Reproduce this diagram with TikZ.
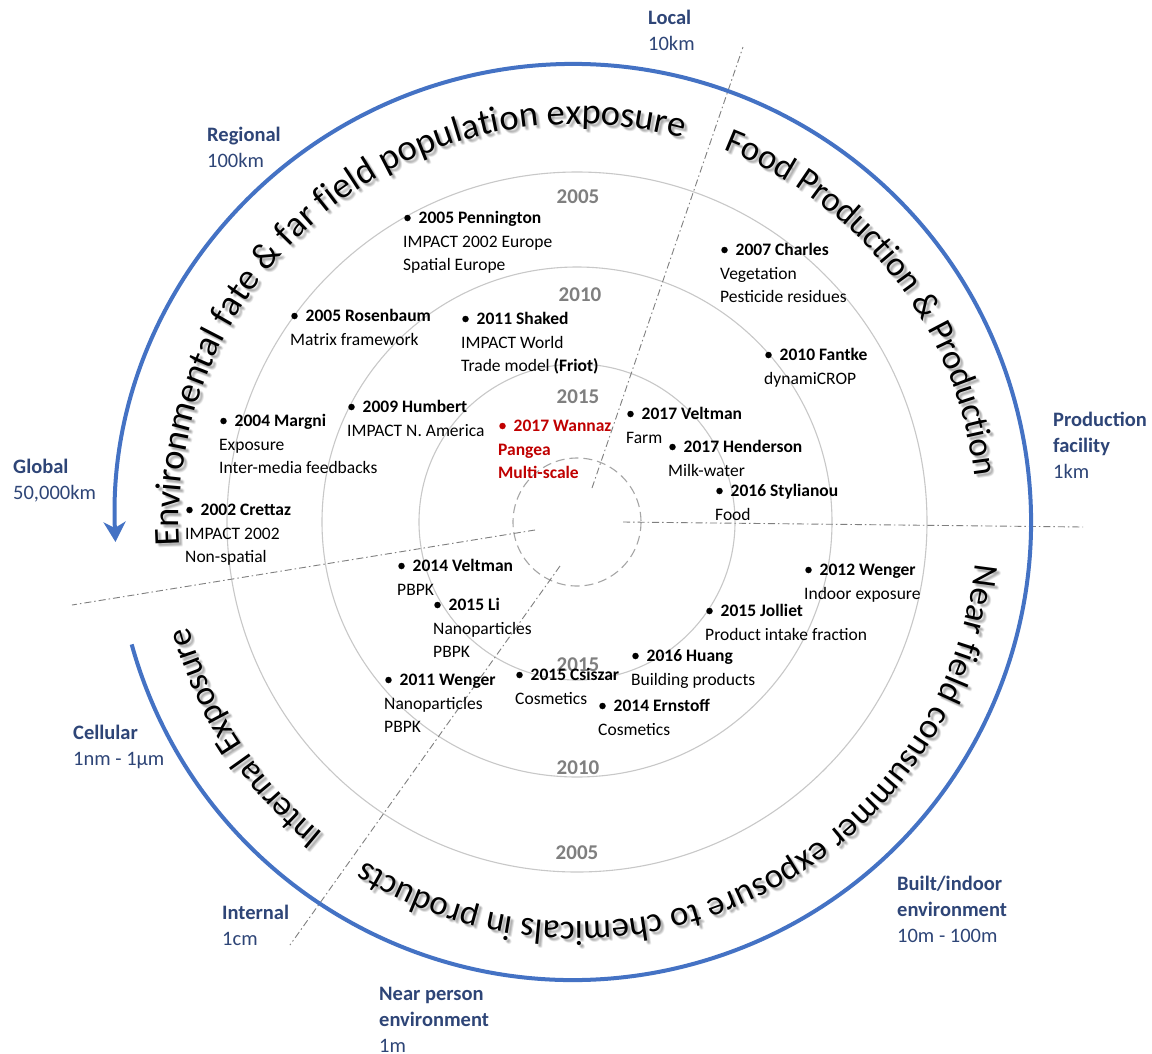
\documentclass[tikz,border=0pt]{standalone}
\usepackage{fontspec}
\setmainfont{Carlito}
\usetikzlibrary{decorations.text,arrows.meta}

\definecolor{arcblue}{HTML}{4472C4}
\definecolor{scaleblue}{HTML}{2E4577}
\definecolor{ringgray}{HTML}{C8C8C8}
\definecolor{yeargray}{HTML}{7F7F7F}
\definecolor{axisgray}{HTML}{7F7F7F}
\definecolor{keyred}{HTML}{C00000}

\newcommand\entfont{\fontsize{17.5}{23.3}\selectfont}
\newcommand\scalefont{\fontsize{20.5}{26}\selectfont}
\newcommand\bandfont{\fontsize{35}{35}\selectfont}
\newcommand\bandfontwide{\fontsize{36.5}{36.5}\selectfont}

\tikzset{
  ring/.style={draw=ringgray, line width=1.1pt},
  axis/.style={draw=axisgray, line width=0.9pt, dash pattern=on 7pt off 3pt on 1.5pt off 3pt},
  entry/.style={anchor=north west, inner sep=0pt, align=left, font=\entfont},
  dot/.style={circle, fill=black, draw=none, inner sep=0pt, minimum size=6.5pt},
  scalelbl/.style={anchor=north west, inner sep=0pt, align=left, font=\scalefont, text=scaleblue},
  yearlbl/.style={inner sep=0pt, font=\fontsize{21}{21}\selectfont\bfseries, text=yeargray},
  band/.style={decorate, decoration={text along path, text align=center, text={#1}}},
}

% publication entry: bullet dot plus a left-aligned block of lines
% #1 colour, #2 name, #3 left x, #4 centre y of the first line, #5 lines
\newcommand\paper[5][black]{%
  \node[dot, fill=#1] (#2-dot) at (#3+4.5, #4) {};
  \node[entry, text=#1] (#2) at (#3, #4-8.4) {\rule{0pt}{14pt}\hspace*{15.5pt}#5};}

% scale label: #1 name, #2 left x, #3 centre y of the first line, #4 lines
\newcommand\scalelabel[4]{%
  \node[scalelbl] (#1) at (#2, #3-9.4) {\rule{0pt}{16pt}#4};}

% the four band titles written along the ring
\newcommand\bandtitles{%
  \path[band={|\bandfontwide|Environmental fate {\&} far field population exposure}]
    (202:398) arc[start angle=202, end angle=56, radius=398];
  \path[band={|\bandfont|Food Production {\&} Production}]
    (80:400) arc[start angle=80, end angle=-5, radius=400];
  \path[band={|\bandfont|Near field consummer exposure to chemicals in products}]
    (10:400) arc[start angle=10, end angle=-138, radius=400];
  \path[band={|\bandfont|Internal Exposure}]
    (250:402) arc[start angle=250, end angle=176, radius=402];}

\begin{document}
\begin{tikzpicture}[x=1pt, y=-1pt]
  \fill[white] (0,0) rectangle (1152,1053);
  \useasboundingbox (0,0) rectangle (1152,1053);

  \coordinate (C) at (577,522);

  % time rings
  \draw[ring] (C) circle[radius=158];
  \draw[ring] (C) circle[radius=255];
  \draw[ring] (C) circle[radius=350];
  \draw[draw=black!35, line width=1.1pt, dash pattern=on 9pt off 5pt] (C) circle[radius=64];

  % sector dividers
  \coordinate (a1s) at (592,488);  \coordinate (a1e) at (743,47);
  \coordinate (a2s) at (623,522);  \coordinate (a2e) at (1083,527);
  \coordinate (a3s) at (535,530);  \coordinate (a3e) at (72,605);
  \coordinate (a4s) at (560,566);  \coordinate (a4e) at (290,945);
  \draw[axis] (a1s) -- (a1e);
  \draw[axis] (a2s) -- (a2e);
  \draw[axis] (a3s) -- (a3e);
  \draw[axis] (a4s) -- (a4e);

  % outer scale arrow
  \begin{scope}[shift={(573,522)}, y=1pt]
    \draw[arcblue, line width=4pt, -{Stealth[length=20pt, width=22pt, inset=6pt]}]
      (195.5:458) arc[start angle=195.5, end angle=542.5, radius=458];
  \end{scope}

  % band titles with a soft shadow
  \begin{scope}[shift={(577,522)}, y=1pt]
    \foreach \dx/\dy in {2/-2, 3/-3, 4/-4, 3/-2, 2/-3, 4/-3, 3/-4} {
      \begin{scope}[shift={(\dx,\dy)}, opacity=0.05]
        \bandtitles
      \end{scope}
    }
    \bandtitles
  \end{scope}

  % year labels on the rings
  \node[yearlbl] (y05t) at (578,197) {2005};
  \node[yearlbl] (y10t) at (580,295) {2010};
  \node[yearlbl] (y15t) at (578,397) {2015};
  \node[yearlbl] (y15b) at (578,665) {2015};
  \node[yearlbl] (y10b) at (578,768) {2010};
  \node[yearlbl] (y05b) at (577,853) {2005};

  % scale labels
  \scalelabel{local}{648}{18}{\textbf{Local}\\10km}
  \scalelabel{regional}{207}{135}{\textbf{Regional}\\100km}
  \scalelabel{global}{13}{467}{\textbf{Global}\\50,000km}
  \scalelabel{facility}{1053}{420}{\textbf{Production}\\\textbf{facility}\\1km}
  \scalelabel{cellular}{73}{733}{\textbf{Cellular}\\1nm - 1µm}
  \scalelabel{internal}{222}{913}{\textbf{Internal}\\1cm}
  \scalelabel{nearperson}{379}{994}{\textbf{Near person}\\\textbf{environment}\\1m}
  \scalelabel{built}{897}{884}{\textbf{Built/indoor}\\\textbf{environment}\\10m - 100m}

  % publications
  \paper{pen}{403}{218}{\textbf{2005 Pennington}\\IMPACT 2002 Europe\\Spatial Europe}
  \paper{ros}{290}{316}{\textbf{2005 Rosenbaum}\\Matrix framework}
  \paper{sha}{461}{319}{\textbf{2011 Shaked}\\IMPACT World\\Trade model \textbf{(Friot)}}
  \paper{cha}{720}{250}{\textbf{2007 Charles}\\Vegetation\\Pesticide residues}
  \paper{fan}{764}{355}{\textbf{2010 Fantke}\\dynamiCROP}
  \paper{mar}{219}{421}{\textbf{2004 Margni}\\Exposure\\Inter-media feedbacks}
  \paper{hum}{347}{407}{\textbf{2009 Humbert}\\IMPACT N. America}
  \paper{cre}{185}{510}{\textbf{2002 Crettaz}\\IMPACT 2002\\Non-spatial}
  \paper[keyred]{wan}{498}{426}{\textbf{2017 Wannaz}\\\textbf{Pangea}\\\textbf{Multi-scale}}
  \paper{velb}{626}{414}{\textbf{2017 Veltman}\\Farm}
  \paper{hen}{668}{447}{\textbf{2017 Henderson}\\Milk-water}
  \paper{sty}{715}{491}{\textbf{2016 Stylianou}\\Food}
  \paper{vela}{397}{566}{\textbf{2014 Veltman}\\PBPK}
  \paper{li}{433}{605}{\textbf{2015 Li}\\Nanoparticles\\PBPK}
  \paper{wena}{384}{680}{\textbf{2011 Wenger}\\Nanoparticles\\PBPK}
  \paper{csi}{515}{675}{\textbf{2015 Csiszar}\\Cosmetics}
  \paper{hua}{631}{656}{\textbf{2016 Huang}\\Building products}
  \paper{ern}{598}{706}{\textbf{2014 Ernstoff}\\Cosmetics}
  \paper{jol}{705}{611}{\textbf{2015 Jolliet}\\Product intake fraction}
  \paper{wenb}{804}{570}{\textbf{2012 Wenger}\\Indoor exposure}
\end{tikzpicture}
\end{document}
